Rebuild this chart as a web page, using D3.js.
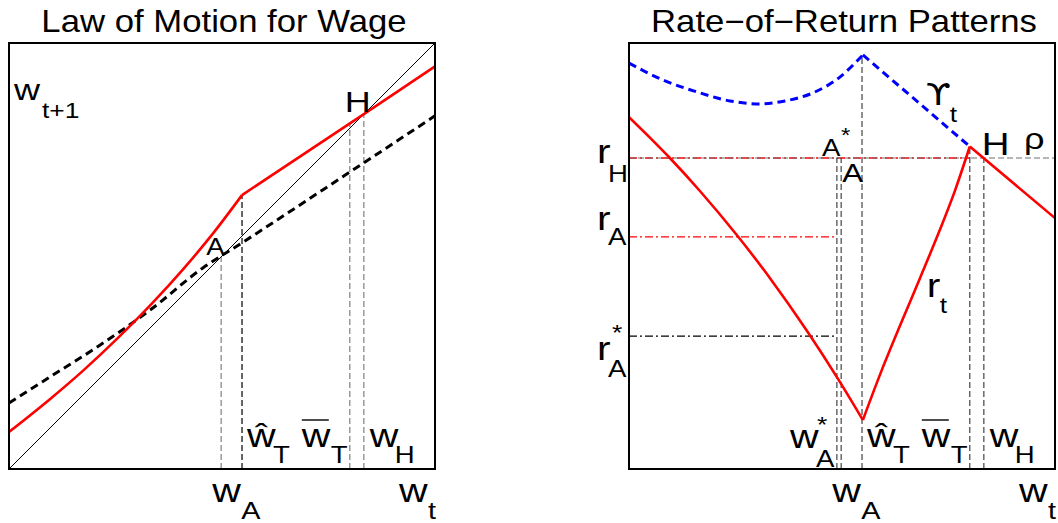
<!DOCTYPE html>
<html>
<head>
<meta charset="utf-8">
<script src="https://cdn.jsdelivr.net/npm/d3@7"></script>
<style>
  html, body { margin: 0; padding: 0; background: #fff; }
  svg { display: block; }
  text { font-family: "Liberation Sans", Arial, "DejaVu Sans", sans-serif; fill: #000; }
  text.greek { font-family: "DejaVu Sans", sans-serif; }
</style>
</head>
<body>
<svg id="fig" width="1058" height="523"></svg>
<script>
// ---------------- data ----------------
const panelTitles = ["Law of Motion for Wage", "Rate\u2212of\u2212Return Patterns"];

// critical wage levels on the w_t axis (fraction of plotted range)
const wAstar = 0.488, wA = 0.498, wHat = 0.547, wBar = 0.800, wH = 0.833;

// left panel: law of motion w_{t+1}(w_t), red, smooth part up to the kink at w-hat
const lomSmoothW = [0, 0.096, 0.174, 0.254, 0.338, 0.408, 0.479, 0.547];
const lomSmoothV = [0.087, 0.164, 0.231, 0.306, 0.391, 0.468, 0.553, 0.643];
// linear part after the kink
const lomLinearW = [0.547, 0.833, 1];
const lomLinearV = [0.643, 0.833, 0.945];
// black dashed law of motion
const lomDashW = [0, 0.096, 0.214, 0.331, 0.455, 0.547, 0.800, 1];
const lomDashV = [0.155, 0.216, 0.291, 0.373, 0.472, 0.531, 0.697, 0.829];
// vertical guides: wage and height where each guide stops
const lomGuideW = [wA, wHat, wBar, wH];
const lomGuideTop = [0.498, 0.643, 0.811, 0.833];

// right panel: Upsilon_t (blue dashed), smooth part up to the peak, then linear
const upsSmoothW = [0, 0.080, 0.160, 0.237, 0.308, 0.366, 0.432, 0.495, 0.549];
const upsSmoothV = [0.953, 0.913, 0.885, 0.864, 0.857, 0.864, 0.883, 0.920, 0.972];
const upsLinearW = [0.549, 0.800];
const upsLinearV = [0.972, 0.757];
// r_t (red): falling branch, rising branch, tail
const rFallW = [0, 0.049, 0.096, 0.167, 0.254, 0.331, 0.418, 0.491, 0.549];
const rFallV = [0.826, 0.778, 0.730, 0.652, 0.548, 0.448, 0.324, 0.211, 0.115];
const rRiseW = [0.549, 0.589, 0.636, 0.683, 0.730, 0.765, 0.800];
const rRiseV = [0.115, 0.221, 0.336, 0.448, 0.562, 0.653, 0.757];
const rTailW = [0.800, 1];
const rTailV = [0.757, 0.589];
// return levels
const rH = 0.730, rA = 0.545, rAstar = 0.312, rho = 0.730;
// vertical guides on the right panel
const rorGuideW = [wAstar, wA, wHat, wBar, wH];
const rorGuideTop = [rH, rH, 0.972, 0.757, rH];

// ---------------- layout ----------------
const SX = 1.2;   // horizontal stretch of math labels
const SXT = 1.12; // horizontal stretch of titles
const svg = d3.select("#fig");
const y = d3.scaleLinear().domain([0, 1]).range([469, 43]);
const xL = d3.scaleLinear().domain([0, 1]).range([9, 435]);
const xR = d3.scaleLinear().domain([0, 1]).range([629, 1055]);

const zip = (a, b) => a.map((v, i) => [v, b[i]]);
function path(g, xs, pts, curve) {
  return g.append("path")
    .attr("d", d3.line().x(d => xs(d[0])).y(d => y(d[1])).curve(curve)(pts))
    .attr("fill", "none");
}
function lab(g, x, yy, str, size) {
  return g.append("text")
    .attr("transform", `translate(${x},${yy}) scale(${SX},1)`)
    .attr("font-size", size)
    .text(str);
}

// clip regions for the two axes boxes
const defs = svg.append("defs");
[["clipL", xL], ["clipR", xR]].forEach(([id, xs]) => {
  defs.append("clipPath").attr("id", id).append("rect")
    .attr("x", xs(0)).attr("y", y(1)).attr("width", xs(1) - xs(0)).attr("height", y(0) - y(1));
});

// ---------------- left panel ----------------
const gL = svg.append("g").attr("clip-path", "url(#clipL)");
lomGuideW.forEach((w, i) => {
  gL.append("line")
    .attr("x1", xL(w)).attr("x2", xL(w)).attr("y1", y(0)).attr("y2", y(lomGuideTop[i]))
    .attr("stroke", w === wHat ? "#000" : "#808080")
    .attr("stroke-width", 1.2).attr("stroke-dasharray", "6,3");
});
// 45-degree line
path(gL, xL, [[0, 0], [1, 1]], d3.curveLinear).attr("stroke", "#000").attr("stroke-width", 1);
path(gL, xL, zip(lomDashW, lomDashV), d3.curveMonotoneX)
  .attr("stroke", "#000").attr("stroke-width", 3).attr("stroke-dasharray", "8,5");
path(gL, xL, zip(lomSmoothW, lomSmoothV), d3.curveMonotoneX).attr("stroke", "#f00").attr("stroke-width", 2.6);
path(gL, xL, zip(lomLinearW, lomLinearV), d3.curveLinear).attr("stroke", "#f00").attr("stroke-width", 2.6);

// ---------------- right panel ----------------
const gR = svg.append("g").attr("clip-path", "url(#clipR)");
const dashDot = "8,3,2,3";
path(gR, xR, [[0, rH], [wBar, rH]], d3.curveLinear)
  .attr("stroke", "#f00").attr("stroke-width", 1.3).attr("stroke-dasharray", dashDot);
path(gR, xR, [[0, rho], [1, rho]], d3.curveLinear)
  .attr("stroke", "#707070").attr("stroke-width", 1.2).attr("stroke-dasharray", "6,3");
path(gR, xR, [[0, rA], [wAstar, rA]], d3.curveLinear)
  .attr("stroke", "#f00").attr("stroke-width", 1.3).attr("stroke-dasharray", dashDot);
path(gR, xR, [[0, rAstar], [wAstar, rAstar]], d3.curveLinear)
  .attr("stroke", "#000").attr("stroke-width", 1.2).attr("stroke-dasharray", dashDot);
rorGuideW.forEach((w, i) => {
  gR.append("line")
    .attr("x1", xR(w)).attr("x2", xR(w)).attr("y1", y(0)).attr("y2", y(rorGuideTop[i]))
    .attr("stroke", "#333").attr("stroke-width", 1.1).attr("stroke-dasharray", "6,3");
});
path(gR, xR, zip(upsSmoothW, upsSmoothV), d3.curveMonotoneX)
  .attr("stroke", "#00f").attr("stroke-width", 3).attr("stroke-dasharray", "8,5");
path(gR, xR, zip(upsLinearW, upsLinearV), d3.curveLinear)
  .attr("stroke", "#00f").attr("stroke-width", 3).attr("stroke-dasharray", "8,5");
path(gR, xR, zip(rFallW, rFallV), d3.curveMonotoneX).attr("stroke", "#f00").attr("stroke-width", 2.6);
path(gR, xR, zip(rRiseW, rRiseV), d3.curveMonotoneX).attr("stroke", "#f00").attr("stroke-width", 2.6);
path(gR, xR, zip(rTailW, rTailV), d3.curveLinear).attr("stroke", "#f00").attr("stroke-width", 2.6);

// ---------------- frames and titles ----------------
[xL, xR].forEach((xs, i) => {
  svg.append("rect")
    .attr("x", xs(0)).attr("y", y(1)).attr("width", xs(1) - xs(0)).attr("height", y(0) - y(1))
    .attr("fill", "none").attr("stroke", "#000").attr("stroke-width", 2);
  svg.append("text")
    .attr("transform", `translate(${(xs(0) + xs(1)) / 2 + 2},32) scale(${SXT},1)`)
    .attr("text-anchor", "middle").attr("font-size", 31)
    .text(panelTitles[i]);
});

// ---------------- labels ----------------
const T = svg.append("g");
const MAIN = 33, SUB = 23;

// wage labels shared by both panels
[xL, xR].forEach(xs => {
  // w-hat_T
  lab(T, xs(wHat) + 5, y(0) - 22, "\u0175", MAIN);
  lab(T, xs(wHat) + 31, y(0) - 6, "T", SUB);
  // w-bar_T
  lab(T, xs(wBar) - 48, y(0) - 22, "w", MAIN);
  lab(T, xs(wBar) - 19, y(0) - 6, "T", SUB);
  T.append("line")
    .attr("x1", xs(wBar) - 48).attr("x2", xs(wBar) - 21)
    .attr("y1", y(0) - 49).attr("y2", y(0) - 49)
    .attr("stroke", "#000").attr("stroke-width", 1.4);
  // w_H
  lab(T, xs(wH) + 6, y(0) - 22, "w", MAIN);
  lab(T, xs(wH) + 31, y(0) - 6, "H", SUB);
  // axis labels below the box
  lab(T, xs(wA) - 9, y(0) + 33, "w", MAIN);
  lab(T, xs(wA) + 20, y(0) + 50, "A", SUB + 1);
  lab(T, xs(1) - 36, y(0) + 33, "w", MAIN);
  lab(T, xs(1) - 7, y(0) + 50, "t", SUB + 1);
});

// left panel
lab(T, xL(0) + 5, y(1) + 57, "w", 30);
lab(T, xL(0) + 33, y(1) + 75, "t+1", 22);
lab(T, xL(wH) - 19, y(wH) - 2, "H", 30);
lab(T, xL(wA) - 15, y(wA) - 2, "A", 23);

// right panel
lab(T, xR(0) - 32, y(rH) + 5, "r", MAIN + 1);
lab(T, xR(0) - 21, y(rH) + 24, "H", SUB);
lab(T, xR(0) - 32, y(rA) - 7, "r", MAIN + 1);
lab(T, xR(0) - 21, y(rA) + 8, "A", SUB);
lab(T, xR(0) - 32, y(rAstar) + 24, "r", MAIN + 1);
lab(T, xR(0) - 21, y(rAstar) + 41, "A", SUB);
lab(T, xR(0) - 17, y(rAstar) + 4, "*", 22);
lab(T, xR(wAstar) - 15, y(rH) - 2, "A", 23);
lab(T, xR(wAstar) + 4, y(rH) - 16, "*", 20);
lab(T, xR(wA) + 1, y(rH) + 24, "A", 26);
lab(T, xR(wBar) - 44, y(1) + 62, "\u03D2", 30).attr("class", "greek");
lab(T, xR(wBar) - 20, y(1) + 79, "t", 22);
lab(T, xR(wH) - 2, y(rH) - 3, "H", 32);
lab(T, xR(1) - 31, y(rH) - 9, "\u03C1", 30);
lab(T, xR(wBar) - 43, y(0) - 172, "r", MAIN + 1);
lab(T, xR(wBar) - 30, y(0) - 156, "t", 22);
lab(T, xR(wAstar) - 47, y(0) - 21, "w", MAIN);
lab(T, xR(wAstar) - 21, y(0) - 2, "A", SUB);
lab(T, xR(wAstar) - 20, y(0) - 37, "*", 22);
</script>
</body>
</html>
